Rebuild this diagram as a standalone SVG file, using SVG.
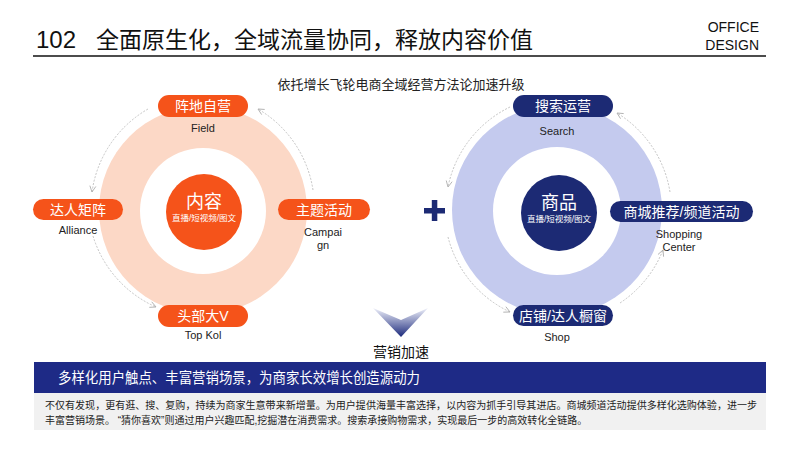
<svg xmlns="http://www.w3.org/2000/svg" width="800" height="450" viewBox="0 0 800 450">
<defs>
<style>
text{font-family:"Liberation Sans","Noto Sans CJK SC",sans-serif;}
.pillO{fill:#F5531A;}
.pillB{fill:#1C2A74;}
.pt{fill:#fff;font-size:14px;text-anchor:middle;}
.en{fill:#222;font-size:11px;text-anchor:middle;}
.arc{fill:none;stroke:#b5b5b5;stroke-width:0.8;stroke-dasharray:2 1.5;marker-end:url(#arr);}
.body{fill:#222;font-size:10px;}
</style>
<marker id="arr" viewBox="0 0 8 8" refX="7" refY="4" markerWidth="8" markerHeight="8" markerUnits="userSpaceOnUse" orient="auto">
<path d="M1,1 L7,4 L1,7" fill="none" stroke="#aaa" stroke-width="0.8"/>
</marker>
<linearGradient id="chev" x1="0" y1="0" x2="0" y2="1">
<stop offset="0" stop-color="#eef0fa"/>
<stop offset="1" stop-color="#1C2A7C"/>
</linearGradient>
</defs>
<rect width="800" height="450" fill="#fff"/>

<g id="header">
<text x="36" y="48" font-size="24" fill="#111">102<tspan x="96" font-size="23">全面原生化，全域流量协同，释放内容价值</tspan></text>
<line x1="33" y1="56" x2="766" y2="56" stroke="#111" stroke-width="1.5"/>
<text x="759" y="32" font-size="14" fill="#111" text-anchor="end">OFFICE</text>
<text x="759" y="50" font-size="14" fill="#111" text-anchor="end">DESIGN</text>
<text x="401" y="89" font-size="13" fill="#222" text-anchor="middle">依托增长飞轮电商全域经营方法论加速升级</text>
</g>

<g id="ring-left">
<circle cx="203" cy="210" r="104" fill="#FCD8C6"/>
<circle cx="203" cy="211" r="63" fill="#fff"/>
</g>
<g id="ring-right">
<circle cx="557" cy="210" r="105" fill="#C4CAEE"/>
<circle cx="557" cy="211" r="64" fill="#fff"/>
</g>

<g id="connectors">
<path class="arc" d="M148,109 A114,114 0 0,0 92,192"/>
<path class="arc" d="M93,236 A114,114 0 0,0 156,307"/>
<path class="arc" d="M313,190 A114,114 0 0,0 258,109"/>
<path class="arc" d="M510,107 A114,114 0 0,0 448,187"/>
<path class="arc" d="M448,237 A114,114 0 0,0 510,312"/>
<path class="arc" d="M620,303 A114,114 0 0,0 663,250"/>
<path class="arc" d="M670,192 A114,114 0 0,0 617,113"/>
</g>

<g id="core-content">
<circle cx="204" cy="212" r="38" fill="#F5531A"/>
<text x="204" y="208" font-size="18" fill="#fff" text-anchor="middle">内容</text>
<text x="204" y="221" font-size="8.5" fill="#fff" text-anchor="middle">直播/短视频/图文</text>
</g>
<g id="node-field">
<rect class="pillO" x="158" y="95" width="90" height="22" rx="11"/>
<text class="pt" x="203" y="111">阵地自营</text>
<text class="en" x="203" y="132">Field</text>
</g>
<g id="node-alliance">
<rect class="pillO" x="33" y="199" width="90" height="21" rx="10.5"/>
<text class="pt" x="78" y="214.5">达人矩阵</text>
<text class="en" x="78" y="234">Alliance</text>
</g>
<g id="node-campaign">
<rect class="pillO" x="278" y="199" width="92" height="21" rx="10.5"/>
<text class="pt" x="324" y="214.5">主题活动</text>
<text class="en" x="323" y="236">Campai</text>
<text class="en" x="323" y="249">gn</text>
</g>
<g id="node-topkol">
<rect class="pillO" x="158" y="305" width="90" height="22" rx="11"/>
<text class="pt" x="203" y="321">头部大V</text>
<text class="en" x="203" y="339">Top Kol</text>
</g>

<g id="plus">
<rect x="424" y="208" width="21" height="5.5" fill="#1C2A74"/>
<rect x="431.8" y="200" width="5.5" height="21" fill="#1C2A74"/>
</g>

<g id="core-goods">
<circle cx="559" cy="213" r="38" fill="#1C2A74"/>
<text x="559" y="209" font-size="18" fill="#fff" text-anchor="middle">商品</text>
<text x="559" y="222" font-size="8.5" fill="#fff" text-anchor="middle">直播/短视频/图文</text>
</g>
<g id="node-search">
<rect class="pillB" x="513" y="95" width="100" height="22" rx="11"/>
<text class="pt" x="563" y="111">搜索运营</text>
<text class="en" x="557" y="135">Search</text>
</g>
<g id="node-shopping">
<rect class="pillB" x="610" y="201" width="143" height="21" rx="10.5"/>
<text class="pt" x="681.5" y="216.5" font-size="13.5">商城推荐/频道活动</text>
<text class="en" x="679" y="238">Shopping</text>
<text class="en" x="679" y="251">Center</text>
</g>
<g id="node-shop">
<rect class="pillB" x="513" y="305" width="100" height="21" rx="10.5"/>
<text class="pt" x="563" y="320.5" font-size="13.5">店铺/达人橱窗</text>
<text class="en" x="557" y="341">Shop</text>
</g>

<g id="accel">
<polygon points="373,308 401,320 428,308 401,337" fill="url(#chev)"/>
<text x="401" y="357" font-size="14" fill="#111" text-anchor="middle">营销加速</text>
</g>

<g id="summary">
<rect x="34" y="362" width="732" height="31" fill="#1E2A86"/>
<text x="58" y="383" font-size="14.5" fill="#fff" textLength="362" lengthAdjust="spacingAndGlyphs">多样化用户触点、丰富营销场景，为商家长效增长创造源动力</text>
<rect x="34" y="393" width="732" height="37" fill="#F1F1F1"/>
<text class="body" x="45" y="409" textLength="712" lengthAdjust="spacingAndGlyphs">不仅有发现，更有逛、搜、复购，持续为商家生意带来新增量。为用户提供海量丰富选择，以内容为抓手引导其进店。商城频道活动提供多样化选购体验，进一步</text>
<text class="body" x="45" y="424">丰富营销场景。 “猜你喜欢”则通过用户兴趣匹配,挖掘潜在消费需求。搜索承接购物需求，实现最后一步的高效转化全链路。</text>
</g>
</svg>
